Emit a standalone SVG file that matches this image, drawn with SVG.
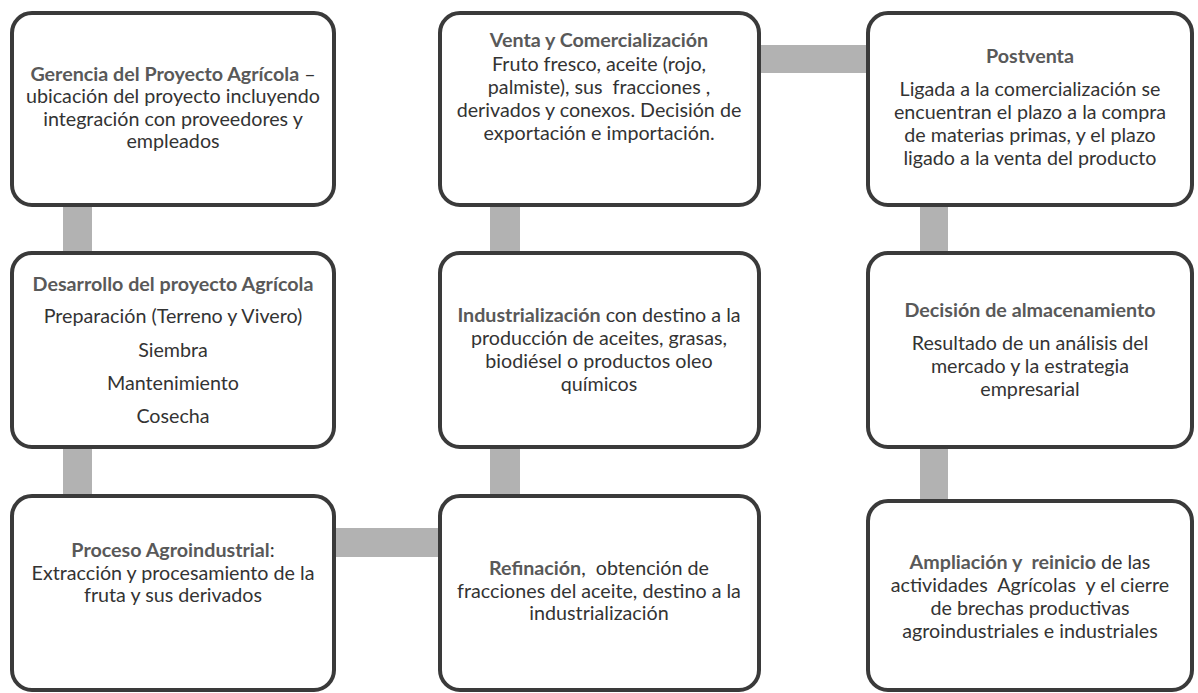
<svg xmlns="http://www.w3.org/2000/svg" width="1198" height="693" viewBox="0 0 1198 693">
<style>
.box{fill:#ffffff;stroke:#3a3a3a;stroke-width:4}
.con{fill:#b2b2b2}
text{font-family:Lato,"Open Sans","Liberation Sans",sans-serif;font-size:19.7px;fill:#333333;text-anchor:middle}
.b{font-weight:bold;fill:#595959}
</style>
<rect width="1198" height="693" fill="#ffffff"/>
<g id="connectors">
<rect class="con" x="63" y="205" width="29" height="48"/>
<rect class="con" x="63" y="447" width="29" height="49"/>
<rect class="con" x="333" y="528" width="108" height="29"/>
<rect class="con" x="490" y="447" width="30" height="49"/>
<rect class="con" x="490" y="205" width="30" height="48"/>
<rect class="con" x="759" y="45" width="110" height="28"/>
<rect class="con" x="920" y="205" width="28" height="48"/>
<rect class="con" x="920" y="447" width="28" height="54"/>
</g>
<g id="gerencia">
<rect class="box" x="12" y="13" width="322" height="192" rx="20"/>
<text x="173" y="81" xml:space="preserve"><tspan class="b">Gerencia del Proyecto Agrícola</tspan> –</text>
<text x="173" y="103">ubicación del proyecto incluyendo</text>
<text x="173" y="126">integración con proveedores y</text>
<text x="173" y="148">empleados</text>
</g>
<g id="venta">
<rect class="box" x="440" y="13" width="319" height="192" rx="20"/>
<text x="599" y="47" class="b">Venta y Comercialización</text>
<text x="599" y="71">Fruto fresco, aceite (rojo,</text>
<text x="599" y="94" xml:space="preserve">palmiste), sus  fracciones ,</text>
<text x="599" y="117">derivados y conexos. Decisión de</text>
<text x="599" y="140">exportación e importación.</text>
</g>
<g id="postventa">
<rect class="box" x="868" y="13" width="324" height="192" rx="20"/>
<text x="1030" y="63" class="b">Postventa</text>
<text x="1030" y="96">Ligada a la comercialización se</text>
<text x="1030" y="119">encuentran el plazo a la compra</text>
<text x="1030" y="142">de materias primas, y el plazo</text>
<text x="1030" y="165">ligado a la venta del producto</text>
</g>
<g id="desarrollo">
<rect class="box" x="12" y="253" width="322" height="194" rx="20"/>
<text x="173" y="291" class="b">Desarrollo del proyecto Agrícola</text>
<text x="173" y="323">Preparación (Terreno y Vivero)</text>
<text x="173" y="357">Siembra</text>
<text x="173" y="390">Mantenimiento</text>
<text x="173" y="423">Cosecha</text>
</g>
<g id="industrializacion">
<rect class="box" x="440" y="253" width="319" height="194" rx="20"/>
<text x="599" y="322"><tspan class="b">Industrialización</tspan> con destino a la</text>
<text x="599" y="345">producción de aceites, grasas,</text>
<text x="599" y="368">biodiésel o productos oleo</text>
<text x="599" y="391">químicos</text>
</g>
<g id="almacenamiento">
<rect class="box" x="868" y="253" width="324" height="194" rx="20"/>
<text x="1030" y="317" class="b">Decisión de almacenamiento</text>
<text x="1030" y="350">Resultado de un análisis del</text>
<text x="1030" y="373">mercado y la estrategia</text>
<text x="1030" y="396">empresarial</text>
</g>
<g id="proceso">
<rect class="box" x="12" y="496" width="322" height="194" rx="20"/>
<text x="173" y="557"><tspan class="b">Proceso Agroindustrial</tspan>:</text>
<text x="173" y="580">Extracción y procesamiento de la</text>
<text x="173" y="602">fruta y sus derivados</text>
</g>
<g id="refinacion">
<rect class="box" x="440" y="496" width="319" height="194" rx="20"/>
<text x="599" y="575" xml:space="preserve"><tspan class="b">Refinación</tspan>,  obtención de</text>
<text x="599" y="598">fracciones del aceite, destino a la</text>
<text x="599" y="620">industrialización</text>
</g>
<g id="ampliacion">
<rect class="box" x="868" y="501" width="324" height="189" rx="20"/>
<text x="1030" y="569" xml:space="preserve"><tspan class="b">Ampliación y  reinicio</tspan> de las</text>
<text x="1030" y="592" xml:space="preserve">actividades  Agrícolas  y el cierre</text>
<text x="1030" y="615">de brechas productivas</text>
<text x="1030" y="638">agroindustriales e industriales</text>
</g>
</svg>
